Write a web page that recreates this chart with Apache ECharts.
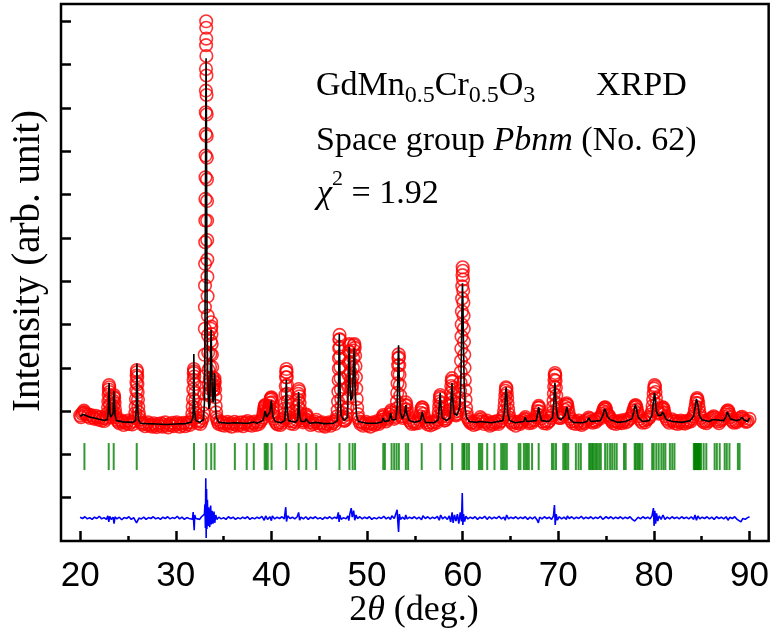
<!DOCTYPE html>
<html>
<head>
<meta charset="utf-8">
<script src="https://cdn.jsdelivr.net/npm/echarts@6/dist/echarts.min.js"></script>
<style>
  html, body { margin: 0; padding: 0; background: #fff; }
  #chart { width: 772px; height: 639px; }
</style>
</head>
<body>
<div id="chart"></div>
<script>
// observed intensity (red circles), [2theta, intensity]
var observed = [
  [20.0,2.90],[20.1,2.86],[20.2,2.94],[20.3,2.97],[20.4,3.01],[20.5,2.97],[20.6,2.93],[20.75,2.88],[20.9,2.92],[21.05,2.84],[21.2,2.90],[21.35,2.86],[21.5,2.82],[21.65,2.89],[21.8,2.85],[21.95,2.80],[22.1,2.86],[22.25,2.78],[22.4,2.83],[22.55,2.77],[22.7,2.82],
  [22.82,2.86],[22.88,2.95],[22.92,3.08],[22.95,3.22],[22.98,3.38],[23.00,3.50],[23.02,3.60],[23.04,3.55],[23.06,3.44],[23.09,3.28],[23.12,3.15],[23.15,3.02],[23.19,2.94],[23.24,2.90],[23.30,2.86],[23.36,2.92],[23.41,3.00],[23.45,3.12],[23.48,3.24],[23.51,3.33],[23.54,3.37],[23.57,3.30],[23.60,3.18],[23.64,3.05],[23.69,2.94],[23.75,2.86],[23.85,2.80],
  [23.95,2.76],[24.1,2.72],[24.25,2.79],[24.4,2.74],[24.55,2.68],[24.7,2.75],[24.85,2.71],[25.0,2.78],[25.15,2.70],[25.3,2.74],[25.45,2.69],[25.6,2.77],
  [25.72,2.84],[25.77,2.95],[25.81,3.10],[25.84,3.28],[25.87,3.48],[25.89,3.66],[25.91,3.82],[25.93,3.95],[25.95,3.90],[25.97,3.78],[25.99,3.62],[26.02,3.44],[26.05,3.26],[26.08,3.10],[26.12,2.97],[26.17,2.88],[26.24,2.80],
  [26.35,2.74],[26.5,2.69],[26.65,2.72],[26.8,2.65],[26.95,2.70],[27.1,2.74],[27.25,2.66],[27.4,2.69],[27.55,2.64],[27.7,2.72],[27.85,2.67],[28.0,2.63],[28.15,2.70],[28.3,2.66],[28.45,2.72],[28.6,2.64],[28.75,2.69],[28.9,2.74],
  [29.05,2.66],[29.2,2.62],[29.35,2.70],[29.5,2.67],[29.65,2.73],[29.8,2.65],[29.95,2.69],[30.1,2.74],[30.25,2.70],[30.4,2.64],[30.55,2.71],[30.7,2.67],[30.85,2.73],[31.0,2.65],[31.15,2.70],[31.3,2.74],[31.45,2.68],[31.58,2.74],
  [31.68,2.82],[31.73,2.94],[31.77,3.10],[31.80,3.28],[31.83,3.50],[31.86,3.72],[31.88,3.88],[31.90,3.97],[31.92,3.92],[31.94,3.80],[31.97,3.62],[32.00,3.42],[32.03,3.24],[32.06,3.08],[32.10,2.95],[32.15,2.85],[32.22,2.78],
  [32.32,2.72],[32.45,2.76],[32.58,2.70],[32.7,2.77],[32.82,2.84],
  [32.90,2.95],[32.94,3.15],[32.97,3.40],[33.00,3.80],[33.02,4.30],[33.04,4.90],[33.05,5.40],[33.06,5.90],[33.07,6.40],[33.08,6.90],[33.09,7.40],[33.10,7.90],[33.11,8.40],[33.12,8.90],[33.13,9.40],[33.14,9.90],[33.15,10.40],[33.16,10.90],[33.17,11.45],[33.18,12.00],
  [33.185,11.85],[33.19,11.60],[33.20,11.20],[33.21,10.75],[33.22,10.30],[33.23,9.85],[33.24,9.35],[33.25,8.85],[33.26,8.35],[33.27,7.85],[33.28,7.40],[33.29,6.95],[33.30,6.50],[33.31,6.10],[33.33,5.65],[33.35,5.20],[33.37,4.75],[33.39,4.35],[33.41,3.95],[33.44,3.62],[33.47,3.40],
  [33.50,3.36],[33.53,3.52],[33.56,3.75],[33.59,4.02],[33.62,4.32],[33.65,4.62],[33.68,4.90],[33.70,5.05],[33.72,4.95],[33.74,4.78],[33.76,4.55],[33.78,4.30],[33.81,4.02],[33.84,3.78],[33.87,3.58],[33.91,3.48],[33.95,3.50],[33.99,3.60],[34.02,3.70],[34.05,3.75],[34.08,3.66],[34.11,3.50],[34.14,3.32],[34.18,3.12],[34.22,2.97],[34.27,2.86],[34.34,2.80],[34.42,2.74],
  [34.5,2.70],[34.65,2.76],[34.8,2.68],[34.95,2.73],[35.1,2.66],[35.25,2.71],[35.4,2.75],[35.55,2.67],[35.7,2.72],[35.85,2.64],[36.0,2.70],[36.15,2.75],[36.3,2.69],[36.45,2.66],[36.6,2.73],[36.75,2.68],[36.9,2.74],[37.05,2.65],[37.2,2.71],[37.35,2.74],[37.5,2.77],[37.65,2.68],[37.8,2.73],[37.95,2.66],[38.1,2.72],[38.25,2.76],[38.4,2.68],[38.55,2.74],[38.7,2.70],[38.85,2.76],[39.0,2.80],
  [39.10,2.85],[39.16,2.92],[39.21,3.00],[39.26,3.07],[39.30,3.12],[39.34,3.14],[39.38,3.11],[39.42,3.05],[39.47,2.99],[39.52,2.95],[39.58,2.94],[39.64,2.97],[39.70,3.01],[39.75,3.06],[39.80,3.12],[39.85,3.19],[39.90,3.26],[39.95,3.30],[40.00,3.32],[40.04,3.28],[40.08,3.20],[40.12,3.09],[40.17,2.98],[40.23,2.89],[40.30,2.82],[40.4,2.77],
  [40.52,2.72],[40.65,2.69],[40.8,2.74],[40.95,2.68],[41.1,2.73],[41.22,2.78],
  [41.32,2.84],[41.37,2.93],[41.41,3.06],[41.44,3.20],[41.47,3.38],[41.50,3.58],[41.53,3.78],[41.55,3.90],[41.57,3.97],[41.59,3.90],[41.61,3.78],[41.64,3.60],[41.67,3.40],[41.70,3.22],[41.74,3.06],[41.79,2.94],[41.85,2.85],[41.93,2.78],
  [42.05,2.71],[42.2,2.76],[42.35,2.70],[42.5,2.75],[42.62,2.80],
  [42.70,2.88],[42.74,2.99],[42.77,3.12],[42.80,3.26],[42.83,3.40],[42.86,3.51],[42.89,3.46],[42.92,3.34],[42.95,3.18],[42.99,3.04],[43.04,2.93],[43.10,2.84],[43.18,2.78],
  [43.3,2.74],[43.42,2.78],[43.52,2.82],[43.60,2.90],[43.66,2.92],[43.72,2.86],[43.82,2.79],[43.95,2.74],
  [44.1,2.68],[44.25,2.74],[44.4,2.70],[44.55,2.76],[44.7,2.80],[44.85,2.72],[45.0,2.66],[45.15,2.71],[45.3,2.74],[45.45,2.67],[45.6,2.64],[45.75,2.71],[45.9,2.69],[46.05,2.74],[46.2,2.66],[46.35,2.72],[46.5,2.75],[46.65,2.70],[46.78,2.80],
  [46.88,2.88],[46.93,3.02],[46.97,3.22],[47.00,3.45],[47.03,3.72],[47.05,3.98],[47.07,4.22],[47.09,4.45],[47.11,4.65],[47.13,4.76],[47.15,4.66],[47.17,4.48],[47.19,4.26],[47.21,4.02],[47.24,3.76],[47.27,3.50],[47.30,3.28],[47.34,3.10],[47.39,2.96],[47.45,2.87],[47.53,2.80],[47.62,2.77],[47.72,2.79],[47.82,2.84],
  [47.90,2.92],[47.96,3.08],[48.00,3.30],[48.03,3.56],[48.06,3.84],[48.09,4.12],[48.12,4.38],[48.15,4.55],[48.18,4.52],[48.21,4.36],[48.24,4.14],[48.28,3.90],[48.32,3.70],[48.36,3.56],[48.40,3.50],
  [48.44,3.60],[48.48,3.78],[48.52,4.00],[48.56,4.22],[48.60,4.40],[48.64,4.52],[48.68,4.55],[48.72,4.46],[48.76,4.28],[48.80,4.04],[48.84,3.78],[48.88,3.52],[48.92,3.28],[48.97,3.08],[49.03,2.93],[49.10,2.84],[49.2,2.76],
  [49.32,2.70],[49.45,2.74],[49.6,2.66],[49.75,2.71],[49.9,2.75],[50.05,2.67],[50.2,2.72],[50.35,2.64],[50.5,2.70],[50.65,2.74],[50.8,2.68],[50.95,2.72],[51.1,2.77],[51.25,2.70],[51.4,2.75],[51.52,2.80],
  [51.62,2.86],[51.70,2.91],[51.78,2.88],[51.88,2.82],[52.0,2.76],[52.12,2.80],[52.24,2.84],[52.36,2.92],[52.46,2.98],[52.54,3.02],[52.62,2.96],[52.72,2.88],[52.84,2.82],[52.95,2.86],[53.04,2.96],
  [53.09,3.06],[53.13,3.22],[53.16,3.42],[53.19,3.64],[53.22,3.86],[53.25,4.06],[53.28,4.22],[53.31,4.31],[53.34,4.24],[53.37,4.06],[53.40,3.84],[53.43,3.60],[53.47,3.36],[53.51,3.14],[53.56,2.98],[53.63,2.88],[53.72,2.84],[53.82,2.88],[53.9,2.95],
  [53.96,3.04],[54.01,3.13],[54.06,3.20],[54.11,3.14],[54.16,3.04],[54.23,2.94],[54.32,2.85],[54.42,2.79],
  [54.55,2.74],[54.7,2.70],[54.85,2.76],[55.0,2.71],[55.15,2.75],[55.3,2.72],[55.45,2.80],
  [55.56,2.88],[55.63,2.96],[55.69,3.04],[55.74,3.08],[55.79,3.09],[55.84,3.03],[55.90,2.94],[55.98,2.86],[56.08,2.79],
  [56.2,2.74],[56.35,2.69],[56.5,2.73],[56.65,2.67],[56.8,2.74],[56.95,2.70],[57.1,2.76],[57.25,2.73],[57.36,2.80],
  [57.45,2.88],[57.50,2.98],[57.54,3.10],[57.58,3.22],[57.62,3.33],[57.66,3.37],[57.70,3.30],[57.74,3.18],[57.78,3.06],[57.83,2.96],[57.90,2.88],[57.98,2.82],[58.08,2.78],[58.2,2.79],[58.32,2.83],[58.44,2.88],[58.55,2.94],
  [58.64,3.02],[58.69,3.12],[58.73,3.26],[58.77,3.42],[58.81,3.58],[58.85,3.70],[58.89,3.76],[58.93,3.68],[58.97,3.54],[59.01,3.38],[59.05,3.22],[59.10,3.08],[59.16,2.98],[59.24,2.92],[59.32,2.90],[59.40,2.94],[59.48,3.00],[59.56,3.08],[59.63,3.18],
  [59.69,3.30],[59.73,3.46],[59.77,3.66],[59.80,3.90],[59.83,4.16],[59.86,4.44],[59.88,4.72],[59.90,5.00],[59.92,5.30],[59.94,5.60],[59.96,5.88],[59.98,6.14],[60.00,6.32],[60.02,6.24],[60.04,6.04],[60.06,5.78],[60.08,5.50],[60.10,5.20],[60.12,4.90],[60.14,4.60],[60.17,4.30],[60.20,4.00],[60.23,3.72],[60.27,3.48],[60.31,3.26],[60.36,3.08],[60.42,2.95],[60.50,2.86],[60.6,2.80],[60.72,2.76],
  [60.85,2.72],[61.0,2.74],[61.15,2.68],[61.3,2.73],[61.45,2.70],[61.6,2.76],[61.72,2.80],[61.85,2.86],[61.98,2.82],[62.1,2.76],[62.25,2.70],[62.4,2.74],[62.55,2.78],[62.7,2.70],[62.85,2.66],[63.0,2.73],[63.15,2.69],[63.3,2.75],[63.45,2.72],[63.6,2.77],[63.75,2.70],[63.9,2.75],[64.05,2.78],[64.18,2.84],
  [64.28,2.90],[64.33,3.00],[64.38,3.12],[64.42,3.24],[64.46,3.36],[64.50,3.47],[64.54,3.55],[64.58,3.52],[64.62,3.42],[64.66,3.30],[64.70,3.17],[64.75,3.04],[64.81,2.93],[64.88,2.85],[64.97,2.79],
  [65.1,2.74],[65.25,2.70],[65.4,2.75],[65.55,2.66],[65.7,2.72],[65.85,2.76],[66.0,2.70],[66.15,2.74],[66.3,2.78],[66.45,2.82],[66.56,2.86],[66.68,2.81],[66.8,2.76],[66.95,2.72],[67.1,2.77],[67.25,2.73],[67.4,2.78],[67.55,2.80],[67.68,2.86],
  [67.78,2.92],[67.84,3.00],[67.90,3.08],[67.95,3.12],[68.00,3.08],[68.06,2.99],[68.13,2.90],[68.22,2.83],
  [68.35,2.76],[68.5,2.72],[68.65,2.77],[68.8,2.71],[68.95,2.75],[69.1,2.78],[69.22,2.84],[69.33,2.90],
  [69.42,2.98],[69.46,3.10],[69.50,3.24],[69.54,3.40],[69.57,3.56],[69.60,3.72],[69.63,3.83],[69.66,3.88],[69.69,3.82],[69.72,3.70],[69.75,3.54],[69.79,3.36],[69.83,3.18],[69.88,3.04],[69.94,2.94],[70.02,2.87],[70.12,2.84],[70.24,2.84],[70.36,2.88],[70.48,2.92],
  [70.60,2.96],[70.68,3.03],[70.75,3.10],[70.82,3.15],[70.88,3.18],[70.94,3.14],[71.00,3.06],[71.07,2.97],[71.16,2.88],[71.27,2.82],
  [71.4,2.76],[71.55,2.72],[71.7,2.77],[71.85,2.70],[72.0,2.74],[72.15,2.78],[72.3,2.71],[72.45,2.68],[72.6,2.75],[72.75,2.72],[72.9,2.77],[73.05,2.80],[73.18,2.85],[73.3,2.82],[73.45,2.76],[73.6,2.73],[73.75,2.78],[73.9,2.75],[74.05,2.80],[74.2,2.84],[74.35,2.82],[74.48,2.88],
  [74.60,2.94],[74.68,3.00],[74.76,3.05],[74.84,3.08],[74.91,3.09],[74.98,3.04],[75.05,2.98],[75.13,2.93],[75.22,2.90],[75.31,2.89],[75.40,2.84],[75.5,2.80],
  [75.62,2.76],[75.75,2.72],[75.9,2.77],[76.05,2.70],[76.2,2.75],[76.35,2.73],[76.5,2.78],[76.65,2.72],[76.8,2.76],[76.95,2.80],[77.1,2.74],[77.25,2.77],[77.4,2.81],[77.55,2.84],[77.68,2.90],
  [77.80,2.96],[77.88,3.02],[77.95,3.08],[78.02,3.12],[78.09,3.14],[78.16,3.10],[78.23,3.03],[78.31,2.95],[78.40,2.88],[78.52,2.82],
  [78.65,2.77],[78.8,2.73],[78.95,2.78],[79.1,2.74],[79.25,2.80],[79.4,2.82],[79.55,2.86],[79.68,2.92],
  [79.80,3.00],[79.86,3.12],[79.92,3.26],[79.97,3.40],[80.02,3.52],[80.07,3.60],[80.12,3.56],[80.17,3.44],[80.22,3.30],[80.28,3.16],[80.34,3.04],[80.42,2.97],[80.52,2.94],[80.62,2.96],[80.72,3.00],[80.80,3.05],[80.88,3.08],[80.95,3.09],[81.02,3.04],[81.10,2.96],[81.20,2.88],[81.32,2.82],
  [81.45,2.77],[81.6,2.73],[81.75,2.78],[81.9,2.81],[82.05,2.76],[82.2,2.72],[82.35,2.77],[82.5,2.70],[82.65,2.74],[82.8,2.78],[82.95,2.72],[83.1,2.76],[83.25,2.71],[83.4,2.77],[83.55,2.74],[83.7,2.79],[83.85,2.76],[84.0,2.82],[84.12,2.88],
  [84.22,2.94],[84.29,3.02],[84.35,3.10],[84.41,3.19],[84.47,3.26],[84.52,3.30],[84.57,3.26],[84.63,3.18],[84.69,3.08],[84.76,2.98],[84.84,2.90],[84.94,2.84],
  [85.05,2.78],[85.2,2.74],[85.35,2.77],[85.5,2.72],[85.65,2.76],[85.8,2.79],[85.95,2.82],[86.1,2.85],[86.25,2.88],[86.38,2.85],[86.5,2.80],[86.65,2.76],[86.8,2.72],[86.95,2.77],[87.1,2.80],[87.25,2.83],[87.38,2.87],
  [87.50,2.92],[87.58,2.96],[87.66,3.00],[87.74,3.02],[87.82,2.98],[87.90,2.92],[87.99,2.86],[88.1,2.80],
  [88.22,2.76],[88.35,2.73],[88.5,2.77],[88.65,2.74],[88.8,2.78],[88.95,2.82],[89.1,2.85],[89.22,2.87],[89.35,2.82],[89.5,2.78],[89.65,2.75],[89.8,2.77],[90.0,2.82]
];

// calculated profile (black line)
var calculated = [
  [20.0,2.88],[20.3,2.92],[20.45,2.95],[20.6,2.90],[21.0,2.86],[21.5,2.84],[22.0,2.81],[22.5,2.79],[22.85,2.80],[22.95,3.0],[23.0,3.45],[23.03,3.65],[23.06,3.4],[23.12,2.95],[23.2,2.86],[23.35,2.84],[23.45,2.95],[23.5,3.3],[23.54,3.46],[23.58,3.25],[23.65,2.9],[23.8,2.78],
  [24.5,2.75],[25.5,2.74],[25.8,2.78],[25.87,3.1],[25.91,3.7],[25.94,4.1],[25.97,3.75],[26.02,3.1],[26.1,2.8],[26.3,2.72],[27,2.71],[28,2.70],[29,2.69],[30,2.70],[31,2.71],[31.6,2.74],
  [31.8,2.85],[31.85,3.4],[31.89,4.32],[31.93,3.5],[31.98,2.95],[32.1,2.78],[32.5,2.74],[32.9,2.80],
  [33.0,3.2],[33.06,5.0],[33.1,7.5],[33.14,10.0],[33.17,11.15],[33.2,10.0],[33.24,7.5],[33.28,5.2],[33.33,3.9],[33.4,3.3],[33.47,3.05],[33.55,3.2],[33.62,3.9],[33.67,4.6],[33.7,4.87],[33.73,4.5],[33.78,3.8],[33.84,3.3],[33.92,3.2],[33.98,3.45],[34.03,3.8],[34.06,3.88],[34.1,3.6],[34.16,3.1],[34.25,2.85],
  [34.5,2.74],[35.5,2.72],[36.1,2.73],[36.2,2.76],[36.3,2.72],[37.3,2.72],[37.45,2.76],[37.6,2.72],[38.16,2.75],[38.5,2.72],[39.1,2.78],[39.25,2.88],[39.32,3.0],[39.35,3.02],[39.4,2.95],[39.5,2.86],[39.65,2.88],[39.85,2.98],[39.95,3.15],[40.0,3.25],[40.05,3.1],[40.15,2.88],[40.4,2.76],
  [41.0,2.73],[41.4,2.78],[41.48,3.1],[41.53,3.5],[41.56,3.72],[41.6,3.45],[41.66,3.0],[41.8,2.78],[42.5,2.74],[42.75,2.80],[42.8,3.1],[42.84,3.44],[42.88,3.3],[42.95,2.9],[43.1,2.76],[43.5,2.76],[43.6,2.82],[43.65,2.84],[43.72,2.78],[44.0,2.72],[44.7,2.74],[45.5,2.71],[46.5,2.72],
  [46.9,2.78],[47.0,3.2],[47.06,4.2],[47.1,4.78],[47.14,4.3],[47.2,3.3],[47.3,2.9],[47.6,2.78],[47.95,2.85],[48.05,3.6],[48.1,4.2],[48.14,4.48],[48.18,4.1],[48.24,3.5],[48.32,3.25],[48.45,3.3],[48.55,3.8],[48.62,4.3],[48.66,4.45],[48.7,4.2],[48.78,3.4],[48.9,2.9],[49.1,2.76],
  [50,2.72],[51,2.72],[51.55,2.75],[51.7,2.84],[51.85,2.76],[52.3,2.78],[52.47,2.95],[52.6,2.8],[53.0,2.8],[53.15,3.1],[53.22,3.8],[53.27,4.3],[53.3,4.52],[53.34,4.1],[53.4,3.4],[53.5,2.95],[53.7,2.82],[53.95,2.95],[54.06,3.14],[54.15,2.95],[54.4,2.78],
  [55,2.74],[55.6,2.78],[55.72,2.92],[55.78,2.98],[55.86,2.88],[56.1,2.74],[57,2.73],[57.45,2.8],[57.58,3.2],[57.65,3.42],[57.72,3.15],[57.85,2.85],[58.3,2.78],[58.7,2.85],[58.82,3.4],[58.89,3.65],[58.96,3.3],[59.1,2.95],[59.4,2.9],
  [59.7,3.1],[59.8,3.5],[59.87,4.4],[59.93,5.4],[59.98,5.95],[60.03,5.5],[60.09,4.5],[60.16,3.6],[60.25,3.1],[60.4,2.85],[60.7,2.76],[61.5,2.74],[61.8,2.76],[61.9,2.8],[62.0,2.76],[63,2.73],
  [64.2,2.78],[64.38,3.0],[64.48,3.4],[64.55,3.55],[64.62,3.35],[64.72,2.95],[64.9,2.78],[65.5,2.73],[66.4,2.76],[66.55,2.86],[66.7,2.76],[67.7,2.78],[67.85,2.95],[67.95,3.09],[68.05,2.95],[68.25,2.78],
  [69.0,2.76],[69.4,2.85],[69.52,3.15],[69.6,3.5],[69.65,3.65],[69.7,3.5],[69.8,3.05],[69.95,2.85],[70.3,2.8],[70.7,2.9],[70.82,3.02],[70.9,3.09],[70.98,3.0],[71.15,2.82],[71.6,2.74],[72.5,2.73],[73.0,2.76],[73.2,2.84],[73.4,2.76],
  [74.4,2.78],[74.7,2.92],[74.83,3.05],[74.9,3.09],[74.98,3.0],[75.12,2.88],[75.3,2.88],[75.45,2.8],[76.2,2.74],[77.0,2.76],[77.7,2.82],[77.9,2.98],[78.05,3.15],[78.1,3.18],[78.18,3.05],[78.35,2.86],[78.8,2.76],
  [79.5,2.78],[79.8,2.9],[79.95,3.2],[80.05,3.42],[80.12,3.35],[80.25,3.0],[80.45,2.9],[80.75,2.9],[80.88,2.98],[80.94,3.02],[81.05,2.92],[81.3,2.8],[82,2.76],[83,2.74],[83.8,2.78],
  [84.15,2.88],[84.32,3.1],[84.45,3.28],[84.5,3.3],[84.6,3.15],[84.75,2.9],[85.0,2.8],[85.8,2.76],[86.1,2.8],[86.25,2.84],[86.4,2.8],[87.3,2.78],[87.55,2.88],[87.68,2.98],[87.74,3.02],[87.82,2.95],[88.0,2.82],
  [88.6,2.78],[89.0,2.8],[89.2,2.86],[89.4,2.8],[89.8,2.76],[90.0,2.84]
];

// difference curve (blue), shifted below the pattern
var difference = [
  [20.0,0.55],[20.25,0.52],[20.5,0.56],[20.75,0.51],[21.0,0.54],[21.25,0.50],[21.5,0.55],[21.75,0.52],[22.0,0.57],[22.25,0.51],[22.5,0.54],[22.75,0.50],[22.9,0.58],[23.0,0.44],[23.1,0.57],[23.25,0.50],[23.45,0.55],[23.55,0.40],[23.65,0.56],[23.85,0.51],
  [24.1,0.55],[24.35,0.49],[24.6,0.54],[24.85,0.52],[25.1,0.56],[25.35,0.50],[25.6,0.54],[25.8,0.50],[25.9,0.42],[26.0,0.44],[26.15,0.53],[26.4,0.51],[26.65,0.55],[26.9,0.50],[27.15,0.54],[27.4,0.52],[27.65,0.56],[27.9,0.51],
  [28.15,0.54],[28.4,0.50],[28.65,0.55],[28.9,0.52],[29.15,0.56],[29.4,0.51],[29.65,0.54],[29.9,0.52],[30.15,0.57],[30.4,0.51],[30.65,0.55],[30.9,0.50],[31.15,0.54],[31.4,0.52],[31.6,0.56],[31.75,0.50],[31.82,0.67],[31.88,0.42],[31.93,0.25],[31.98,0.60],
  [32.1,0.52],[32.3,0.55],[32.5,0.50],[32.7,0.56],[32.9,0.52],[33.0,0.62],[33.05,0.85],[33.1,0.30],[33.14,1.45],[33.18,0.07],[33.22,1.20],[33.26,0.28],[33.31,0.95],[33.37,0.35],[33.45,0.78],[33.55,0.32],[33.65,0.82],[33.72,0.38],[33.8,0.70],[33.9,0.40],[34.0,0.68],[34.08,0.42],[34.18,0.60],[34.3,0.50],
  [34.5,0.55],[34.75,0.51],[35.0,0.54],[35.25,0.50],[35.5,0.56],[35.75,0.52],[36.0,0.55],[36.25,0.50],[36.5,0.54],[36.75,0.51],[37.0,0.55],[37.25,0.52],[37.5,0.56],[37.75,0.50],[38.0,0.54],[38.25,0.51],[38.5,0.55],[38.75,0.52],
  [39.0,0.57],[39.25,0.48],[39.4,0.58],[39.6,0.50],[39.85,0.56],[40.0,0.47],[40.1,0.58],[40.35,0.51],[40.6,0.55],[40.85,0.52],[41.1,0.56],[41.35,0.51],[41.5,0.78],[41.58,0.45],[41.7,0.58],[41.95,0.52],[42.2,0.55],[42.45,0.51],[42.7,0.56],[42.85,0.66],[42.95,0.48],
  [43.1,0.55],[43.35,0.51],[43.6,0.56],[43.85,0.50],[44.1,0.55],[44.35,0.52],[44.6,0.56],[44.85,0.51],[45.1,0.54],[45.35,0.50],[45.6,0.55],[45.85,0.52],[46.1,0.56],[46.35,0.51],[46.6,0.55],[46.85,0.52],
  [47.0,0.66],[47.08,0.44],[47.15,0.60],[47.3,0.50],[47.55,0.54],[47.8,0.51],[48.0,0.58],[48.1,0.47],[48.2,0.62],[48.35,0.76],[48.45,0.55],[48.6,0.70],[48.72,0.48],[48.85,0.60],[49.0,0.52],[49.25,0.56],[49.5,0.51],[49.75,0.55],
  [50.0,0.52],[50.25,0.56],[50.5,0.50],[50.75,0.54],[51.0,0.51],[51.25,0.55],[51.5,0.52],[51.75,0.57],[52.0,0.51],[52.25,0.55],[52.45,0.50],[52.6,0.58],[52.85,0.52],[53.05,0.56],[53.15,0.72],[53.22,0.45],[53.3,0.21],[53.38,0.62],[53.5,0.50],
  [53.7,0.55],[53.95,0.50],[54.05,0.60],[54.2,0.51],[54.45,0.55],[54.7,0.52],[54.95,0.56],[55.2,0.51],[55.45,0.55],[55.7,0.49],[55.85,0.58],[56.1,0.52],[56.35,0.56],[56.6,0.51],[56.85,0.55],[57.1,0.52],[57.35,0.57],[57.55,0.48],[57.7,0.60],[57.9,0.51],
  [58.15,0.56],[58.4,0.50],[58.6,0.58],[58.75,0.44],[58.9,0.66],[59.0,0.42],[59.15,0.60],[59.3,0.46],[59.45,0.62],[59.6,0.40],[59.75,0.66],[59.88,0.45],[59.96,1.11],[60.02,0.37],[60.1,0.62],[60.2,0.45],[60.35,0.57],[60.55,0.51],
  [60.8,0.55],[61.05,0.52],[61.3,0.56],[61.55,0.50],[61.8,0.55],[62.05,0.52],[62.3,0.57],[62.55,0.50],[62.8,0.56],[63.05,0.51],[63.3,0.55],[63.55,0.52],[63.8,0.57],[64.05,0.51],[64.3,0.55],[64.45,0.48],[64.6,0.60],[64.8,0.51],
  [65.05,0.55],[65.3,0.52],[65.55,0.56],[65.8,0.51],[66.05,0.55],[66.3,0.52],[66.55,0.56],[66.8,0.50],[67.05,0.55],[67.3,0.51],[67.55,0.56],[67.8,0.48],[67.92,0.42],[68.05,0.55],[68.3,0.51],[68.55,0.56],[68.8,0.52],[69.05,0.55],[69.3,0.50],
  [69.5,0.58],[69.6,0.83],[69.68,0.37],[69.78,0.62],[69.9,0.48],[70.1,0.56],[70.35,0.51],[70.6,0.55],[70.85,0.50],[70.95,0.58],[71.15,0.52],[71.4,0.56],[71.65,0.51],[71.9,0.55],[72.15,0.52],[72.4,0.57],[72.65,0.51],[72.9,0.55],
  [73.15,0.52],[73.4,0.56],[73.65,0.51],[73.9,0.55],[74.15,0.52],[74.4,0.57],[74.65,0.50],[74.85,0.46],[75.0,0.56],[75.25,0.52],[75.5,0.56],[75.75,0.51],[76.0,0.55],[76.25,0.52],[76.5,0.56],[76.75,0.51],[77.0,0.55],[77.25,0.52],[77.5,0.56],[77.75,0.50],
  [78.0,0.46],[78.15,0.50],[78.35,0.55],[78.6,0.51],[78.85,0.56],[79.1,0.52],[79.35,0.55],[79.6,0.51],[79.8,0.58],[79.95,0.76],[80.02,0.35],[80.1,0.70],[80.18,0.40],[80.28,0.64],[80.4,0.46],[80.55,0.58],[80.75,0.50],[80.95,0.60],[81.15,0.50],
  [81.4,0.55],[81.65,0.51],[81.9,0.56],[82.15,0.52],[82.4,0.55],[82.65,0.51],[82.9,0.56],[83.15,0.52],[83.4,0.55],[83.65,0.51],[83.9,0.56],[84.15,0.50],[84.3,0.60],[84.45,0.48],[84.6,0.58],[84.8,0.51],[85.05,0.55],[85.3,0.52],
  [85.55,0.56],[85.8,0.51],[86.05,0.55],[86.3,0.50],[86.55,0.56],[86.8,0.52],[87.05,0.55],[87.3,0.51],[87.55,0.56],[87.75,0.48],[87.95,0.55],[88.2,0.52],[88.45,0.56],[88.7,0.50],[88.9,0.46],[89.1,0.44],[89.3,0.52],[89.55,0.50],[89.8,0.54],[90.0,0.56]
];

// Bragg reflection positions (green ticks)
var braggPositions = [
  20.45, 22.99, 23.51, 25.92, 31.91, 33.19, 33.71, 34.06, 36.18, 37.42, 38.16, 39.30, 39.45, 39.62, 40.02,
  41.55, 42.85, 43.65, 44.69, 47.12, 48.16, 48.50, 48.75, 51.70, 51.87, 52.57, 52.84, 53.09, 53.33, 54.06, 54.30,
  55.72, 57.67, 58.90, 59.97, 60.12, 60.20, 60.44, 60.66, 61.70, 61.88, 62.05, 62.57, 63.33, 64.03, 64.22, 64.42, 64.62,
  65.86, 66.04, 66.40, 66.58, 66.74, 66.92, 67.26, 67.95, 69.34, 69.52, 69.76, 70.52, 70.70, 70.86, 71.04,
  71.84, 72.12, 72.36, 73.23, 73.35, 73.50, 73.62, 73.78, 73.95, 74.10, 74.28, 74.45, 74.90, 75.14,
  75.42, 75.64, 75.88, 76.11, 76.87, 77.05, 77.99, 78.10, 78.27, 78.40, 78.54, 78.78, 79.82, 79.98, 80.25, 80.50,
  80.78, 81.00, 81.20, 81.67, 81.92, 82.15, 84.17, 84.25, 84.30, 84.36, 84.42, 84.50, 84.55, 84.62, 84.68, 84.75,
  84.80, 84.93, 85.20, 85.48, 86.35, 86.58, 86.88, 87.40, 87.62, 87.90, 88.78, 88.96
];

var xTickValues = [20, 30, 40, 50, 60, 70, 80, 90];
var xMinorTickValues = [25, 35, 45, 55, 65, 75, 85];
var yTickValues = [1, 2, 3, 4, 5, 6, 7, 8, 9, 10, 11, 12];

var braggLevel = 1.95;
var serif = "'Liberation Serif', 'Times New Roman', serif";
var sans = "'Liberation Sans', Arial, sans-serif";

var myChart = echarts.init(document.getElementById("chart"));

var option = {
  backgroundColor: "#fff",
  animation: false,
  grid: {
    left: 61,
    right: 2,
    top: 4,
    bottom: 98,
    show: true,
    borderColor: "#000",
    borderWidth: 2.5,
    backgroundColor: "transparent"
  },
  xAxis: [
    {
      type: "value",
      min: 18,
      max: 92,
      axisLine: { show: false },
      splitLine: { show: false },
      axisTick: {
        inside: true,
        length: 10,
        customValues: xTickValues,
        lineStyle: { color: "#000", width: 2.5 }
      },
      axisLabel: {
        customValues: xTickValues,
        color: "#000",
        fontFamily: sans,
        fontSize: 35,
        margin: 18
      }
    },
    {
      type: "value",
      min: 18,
      max: 92,
      position: "bottom",
      axisLine: { show: false },
      splitLine: { show: false },
      axisLabel: { show: false },
      axisTick: {
        inside: true,
        length: 5,
        customValues: xMinorTickValues,
        lineStyle: { color: "#000", width: 2.5 }
      }
    }
  ],
  yAxis: {
    type: "value",
    min: 0,
    max: 12.4,
    axisLine: { show: false },
    splitLine: { show: false },
    axisLabel: { show: false },
    axisTick: {
      inside: true,
      length: 10,
      customValues: yTickValues,
      lineStyle: { color: "#000", width: 2.5 }
    }
  },
  graphic: [
    {
      type: "text",
      x: 316,
      y: 61,
      style: {
        text: "{m|GdMn}{s|0.5}{m|Cr}{s|0.5}{m|O}{s|3}",
        verticalAlign: "top",
        rich: {
          m: { fontFamily: serif, fontSize: 34, lineHeight: 50, fill: "#000" },
          s: { fontFamily: serif, fontSize: 24, lineHeight: 50, padding: [20, 0, 0, 0], fill: "#000" }
        }
      }
    },
    {
      type: "text",
      x: 596,
      y: 61,
      style: {
        text: "{m|XRPD}",
        verticalAlign: "top",
        rich: { m: { fontFamily: serif, fontSize: 34, lineHeight: 50, fill: "#000" } }
      }
    },
    {
      type: "text",
      x: 316,
      y: 116,
      style: {
        text: "{m|Space group }{i|Pbnm}{m| (No. 62)}",
        verticalAlign: "top",
        rich: {
          m: { fontFamily: serif, fontSize: 34, lineHeight: 50, fill: "#000" },
          i: { fontFamily: serif, fontSize: 34, fontStyle: "italic", lineHeight: 50, fill: "#000" }
        }
      }
    },
    {
      type: "text",
      x: 317,
      y: 159,
      style: {
        text: "{i|\u03c7}{p|2}{m| = 1.92}",
        verticalAlign: "top",
        rich: {
          m: { fontFamily: serif, fontSize: 34, lineHeight: 70, fill: "#000" },
          i: { fontFamily: serif, fontSize: 34, fontStyle: "italic", lineHeight: 70, fill: "#000" },
          p: { fontFamily: serif, fontSize: 22, lineHeight: 70, padding: [0, 0, 30, 0], fill: "#000" }
        }
      }
    },
    {
      type: "text",
      x: 414,
      y: 611,
      style: {
        text: "{m|2}{i|\u03b8}{m| (deg.)}",
        align: "center",
        verticalAlign: "middle",
        rich: {
          m: { fontFamily: serif, fontSize: 36, fill: "#000" },
          i: { fontFamily: serif, fontSize: 36, fontStyle: "italic", fill: "#000" }
        }
      }
    },
    {
      type: "text",
      x: 29,
      y: 261,
      rotation: Math.PI / 2,
      style: {
        text: "Intensity (arb. unit)",
        align: "center",
        verticalAlign: "middle",
        fontFamily: serif,
        fontSize: 39,
        fill: "#000"
      }
    }
  ],
  series: [
    {
      name: "Bragg",
      type: "scatter",
      symbol: "rect",
      symbolSize: [2, 27],
      itemStyle: { color: "#008000" },
      data: braggPositions.map(function (x) { return [x, braggLevel]; }),
      z: 2
    },
    {
      name: "Obs",
      type: "scatter",
      symbol: "circle",
      symbolSize: 12.5,
      itemStyle: { color: "rgba(0,0,0,0)", borderColor: "#ff0000", borderWidth: 1.6 },
      data: observed,
      z: 3
    },
    {
      name: "Calc",
      type: "line",
      showSymbol: false,
      lineStyle: { color: "#000", width: 1.6 },
      data: calculated,
      z: 4
    },
    {
      name: "Diff",
      type: "line",
      showSymbol: false,
      lineStyle: { color: "#0000ff", width: 1.6 },
      data: difference,
      z: 4
    }
  ]
};

myChart.setOption(option);
</script>
</body>
</html>
